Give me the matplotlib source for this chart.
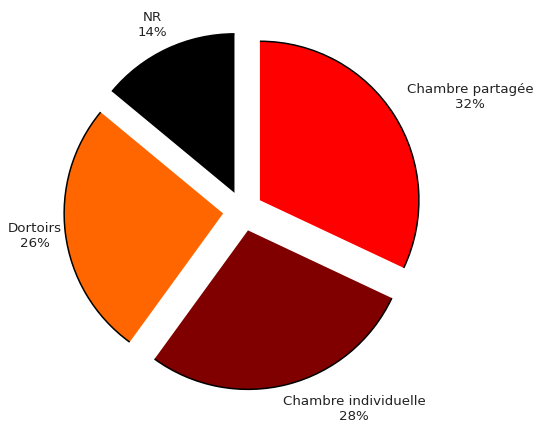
import matplotlib
matplotlib.use('Agg')
import matplotlib.pyplot as plt
from matplotlib.patches import Arc

# data
#####################
labels = ['Chambre partagée', 'Chambre individuelle', 'Dortoirs', 'NR']
values = [32, 28, 26, 14]
colors = ['#FF0000', '#800000', '#FF6600', '#000000']

# layout (label positions in pie radius units)
label_xy = [(1.43, 0.72), (0.70, -1.245), (-1.31, -0.16), (-0.57, 1.17)]

fig = plt.figure(figsize=(5.41, 4.24), dpi=100)
ax = fig.add_axes([0, 0, 1, 1])

wedges, _ = ax.pie(values, colors=colors, startangle=90, counterclock=False,
                   explode=[0.126] * len(values),
                   wedgeprops=dict(linewidth=0))

# black outline only on the arcs
for w in wedges:
    arc = Arc(w.center, 2 * w.r, 2 * w.r, theta1=w.theta1, theta2=w.theta2,
              color='black', linewidth=1.1)
    ax.add_patch(arc)

for lab, val, (x, y) in zip(labels, values, label_xy):
    ax.text(x, y, lab + '\n' + str(val) + '%', ha='center', va='center',
            fontsize=9.6, color='#222222', linespacing=1.2, family='DejaVu Sans')

ax.set_xlim(-1.528, 1.874)
ax.set_ylim(-1.340, 1.327)
ax.set_aspect('equal')
ax.axis('off')

fig.savefig('out.png', dpi=100, facecolor='white')
